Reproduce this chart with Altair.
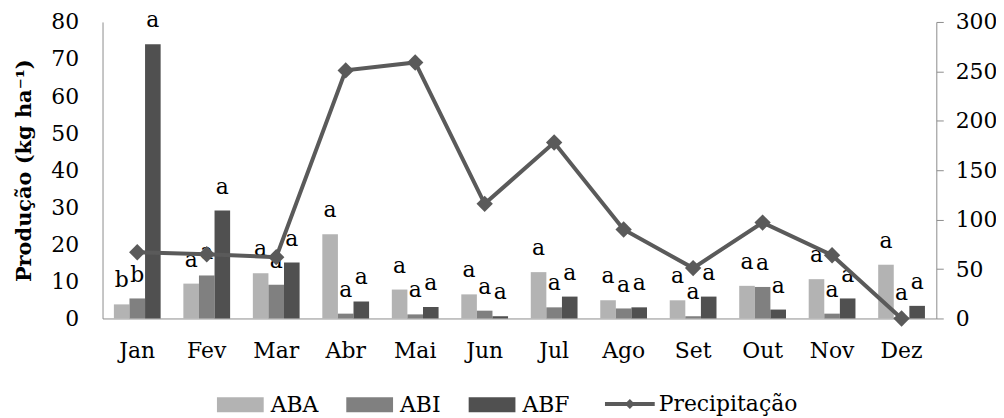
import altair as alt
import pandas as pd

months = ["Jan", "Fev", "Mar", "Abr", "Mai", "Jun", "Jul", "Ago", "Set", "Out", "Nov", "Dez"]
series = ["ABA", "ABI", "ABF"]
aba = [3.8, 9.4, 12.2, 22.7, 7.8, 6.5, 12.5, 4.9, 4.9, 8.8, 10.6, 14.5]
abi = [5.4, 11.6, 9.1, 1.3, 1.1, 2.1, 3.0, 2.7, 0.6, 8.5, 1.3, 0.3]
abf = [74.0, 29.1, 15.1, 4.6, 3.1, 0.6, 5.9, 3.0, 5.9, 2.4, 5.4, 3.4]
aba_letters = ["b", "a", "a", "a", "a", "a", "a", "a", "a", "a", "a", "a"]
abi_letters = ["b", "a", "a", "a", "a", "a", "a", "a", "a", "a", "a", "a"]
abf_letters = ["a", "a", "a", "a", "a", "a", "a", "a", "a", "a", "a", "a"]
precip = [67, 65, 62, 251, 259, 116, 178, 90, 51, 97, 64, 0]

bar_colors = ["#b3b3b3", "#808080", "#505050"]
line_color = "#5a5a5a"
FONT = "DejaVu Serif"
FS = 22

rows = []
for s, vals, lets in zip(series, [aba, abi, abf], [aba_letters, abi_letters, abf_letters]):
    for m, v, l in zip(months, vals, lets):
        rows.append({"month": m, "series": s, "value": v, "letter": l})
bars_df = pd.DataFrame(rows)
precip_df = pd.DataFrame({"month": months, "precip": precip})

x_enc = alt.X(
    "month:N", sort=months, title=None,
    scale=alt.Scale(paddingInner=0.327, paddingOuter=0.1635),
    axis=alt.Axis(labelFont=FONT, labelFontSize=FS, labelColor="black", labelPadding=22,
                  ticks=False, domainColor="#8c8c8c", labelAngle=0),
)
xoff = alt.XOffset("series:N", sort=series, scale=alt.Scale(paddingInner=0, paddingOuter=0))
y_left = alt.Y(
    "value:Q", scale=alt.Scale(domain=[0, 80], nice=False),
    axis=alt.Axis(title="Produção (kg ha⁻¹)", titleFont=FONT, titleFontSize=21, titleFontWeight="bold",
                  titleColor="black", titlePadding=16, values=[0, 10, 20, 30, 40, 50, 60, 70, 80],
                  labelFont=FONT, labelFontSize=FS, labelColor="black", labelPadding=24,
                  ticks=False, grid=False, domainColor="#8c8c8c", orient="left"),
)

bars = alt.Chart(bars_df).mark_bar().encode(
    x=x_enc, xOffset=xoff, y=y_left,
    fill=alt.Fill("series:N", sort=series,
                  scale=alt.Scale(domain=series, range=bar_colors),
                  legend=alt.Legend(title=None, orient="none", legendX=115, legendY=361,
                                    direction="horizontal", symbolType="M-1,-0.32H1V0.32H-1Z",
                                    symbolSize=2209, symbolStrokeWidth=0, labelFont=FONT,
                                    labelFontSize=FS, labelColor="black", labelOffset=7,
                                    columnPadding=28)),
)

labels = alt.Chart(bars_df).mark_text(baseline="alphabetic", dy=-17, font=FONT, fontSize=FS,
                                      color="black").encode(
    x=alt.X("month:N", sort=months), xOffset=alt.XOffset("series:N", sort=series),
    y=alt.Y("value:Q", scale=alt.Scale(domain=[0, 80], nice=False), axis=None),
    text="letter:N",
)

y_right = alt.Y(
    "precip:Q", scale=alt.Scale(domain=[0, 300], nice=False),
    axis=alt.Axis(title=None, orient="right", values=[0, 50, 100, 150, 200, 250, 300],
                  labelFont=FONT, labelFontSize=FS, labelColor="black", labelPadding=12,
                  ticks=True, tickSize=7, tickColor="#8c8c8c", grid=False, domainColor="#8c8c8c"),
)

line = alt.Chart(precip_df).mark_line(color=line_color, strokeWidth=4).encode(
    x=alt.X("month:N", sort=months), y=y_right,
)

points = alt.Chart(precip_df).mark_point(shape="diamond", filled=True, size=270, opacity=1).encode(
    x=alt.X("month:N", sort=months),
    y=alt.Y("precip:Q", scale=alt.Scale(domain=[0, 300], nice=False), axis=None),
    fill=alt.Fill("legend:N", scale=alt.Scale(domain=["Precipitação"], range=[line_color]),
                  legend=alt.Legend(title=None, orient="none", legendX=505, legendY=359,
                                    symbolType="M-1,-0.08H-0.12L0,-0.2L0.12,-0.08H1V0.08H0.12L0,0.2L-0.12,0.08H-1Z",
                                    symbolSize=2500, symbolStrokeWidth=0, labelFont=FONT,
                                    labelFontSize=FS, labelColor="black", labelOffset=4)),
).transform_calculate(legend="'Precipitação'")

chart = alt.layer(bars, labels, line, points).resolve_scale(
    y="independent", fill="independent"
).properties(
    width=838, height=298,
    autosize=alt.AutoSizeParams(type="none"),
    padding={"left": 95, "top": 13, "right": 60, "bottom": 97},
).configure_view(stroke=None)

chart.save("out.html", embed_options={"renderer": "svg", "actions": False})
